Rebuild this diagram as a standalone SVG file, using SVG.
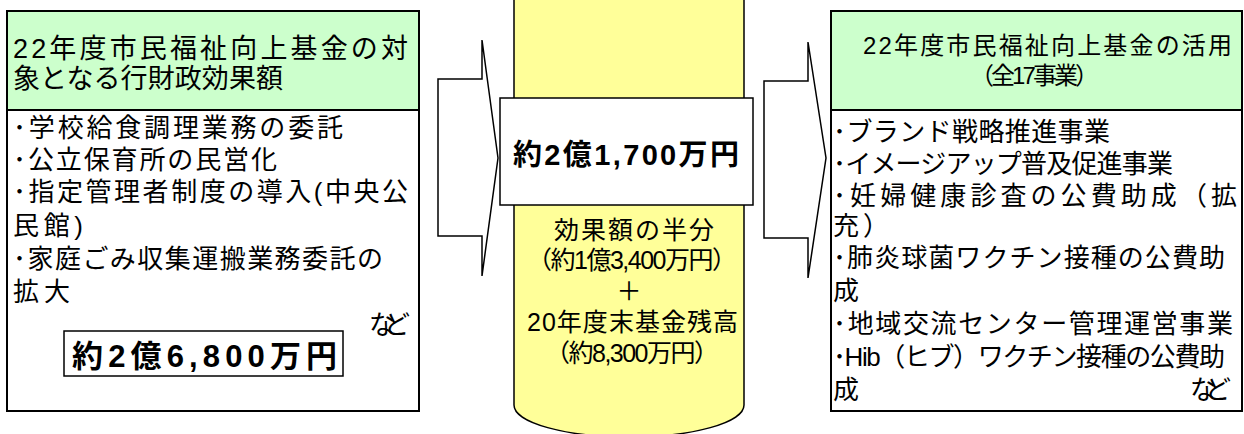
<svg xmlns="http://www.w3.org/2000/svg" width="1244" height="434" viewBox="0 0 1244 434">
<style>
.t{font-family:"Liberation Sans","Noto Sans CJK JP",sans-serif;font-size:26px;fill:#000}
.h{font-size:27px}
.y{font-size:25px}
.rh{font-size:24px}
.b{font-weight:bold;font-size:31px}
.box{fill:#fff;stroke:#000;stroke-width:2}
.hd{fill:#CCFFCC;stroke:#000;stroke-width:2}
.ar{fill:#fff;stroke:#000;stroke-width:1.5;stroke-linejoin:miter}
</style>
<rect width="1244" height="434" fill="#fff"/>
<g id="connectors">
<polygon class="ar" points="438,79 482,79 482,40 498,158 482,276 482,236 438,236"/>
<polygon class="ar" points="764,81 808,81 808,42 826,158 808,278 808,238 764,238"/>
</g>
<g id="left">
<rect class="box" x="7" y="11" width="412" height="400"/>
<rect class="hd" x="7" y="11" width="412" height="99"/>
<text class="t h" x="13" y="58" textLength="395" lengthAdjust="spacing">22年度市民福祉向上基金の対</text>
<text class="t h" x="13" y="88" textLength="270" lengthAdjust="spacing">象となる行財政効果額</text>
<text class="t" x="13" y="137" textLength="330" lengthAdjust="spacing">･学校給食調理業務の委託</text>
<text class="t" x="13" y="169" textLength="264" lengthAdjust="spacing">･公立保育所の民営化</text>
<text class="t" x="13" y="201" textLength="395" lengthAdjust="spacing">･指定管理者制度の導入(中央公</text>
<text class="t" x="13" y="235" textLength="70" lengthAdjust="spacing">民館)</text>
<text class="t" x="13" y="268" textLength="370" lengthAdjust="spacing">･家庭ごみ収集運搬業務委託の</text>
<text class="t" x="13" y="301" textLength="57" lengthAdjust="spacing">拡大</text>
<text class="t" x="369" y="334" textLength="41" lengthAdjust="spacing">など</text>
<rect x="64" y="331" width="279" height="45" fill="#fff" stroke="#000" stroke-width="1.5"/>
<text class="t b" x="72" y="367" textLength="265" lengthAdjust="spacing">約2億6,800万円</text>
</g>
<g id="center">
<path d="M514,-5 L514,405 A115,32 0 0 0 744,405 L744,-5 Z" fill="#FFFF99" stroke="#000" stroke-width="1.5"/>
<rect x="500" y="98" width="253" height="107" fill="#fff" stroke="#000" stroke-width="1.5"/>
<text class="t b" x="513" y="165" textLength="226" lengthAdjust="spacing" style="font-size:29px">約2億1,700万円</text>
<text class="t y" x="554" y="239" textLength="160" lengthAdjust="spacing">効果額の半分</text>
<text class="t y" x="527" y="269" textLength="210" lengthAdjust="spacing">（約1億3,400万円）</text>
<text class="t y" x="629" y="300" text-anchor="middle">＋</text>
<text class="t y" x="527" y="331" textLength="211" lengthAdjust="spacing">20年度末基金残高</text>
<text class="t y" x="545" y="362" textLength="174" lengthAdjust="spacing">（約8,300万円）</text>
</g>
<g id="right">
<rect class="box" x="831" y="11" width="411" height="400"/>
<rect class="hd" x="831" y="11" width="411" height="99"/>
<text class="t rh" x="863" y="54" textLength="369" lengthAdjust="spacing">22年度市民福祉向上基金の活用</text>
<text class="t rh" x="970" y="84" textLength="129" lengthAdjust="spacing">（全17事業）</text>
<text class="t" x="833" y="141" textLength="277" lengthAdjust="spacing">･ブランド戦略推進事業</text>
<text class="t" x="833" y="173" textLength="340" lengthAdjust="spacing">･イメージアップ普及促進事業</text>
<text class="t" x="833" y="205" textLength="404" lengthAdjust="spacing">･妊婦健康診査の公費助成（拡</text>
<text class="t" x="833" y="235" textLength="56" lengthAdjust="spacing">充）</text>
<text class="t" x="833" y="267" textLength="392" lengthAdjust="spacing">･肺炎球菌ワクチン接種の公費助</text>
<text class="t" x="833" y="300" textLength="28" lengthAdjust="spacing">成</text>
<text class="t" x="833" y="333" textLength="400" lengthAdjust="spacing">･地域交流センター管理運営事業</text>
<text class="t" x="833" y="366" textLength="392" lengthAdjust="spacing">･Hib（ヒブ）ワクチン接種の公費助</text>
<text class="t" x="833" y="399" textLength="28" lengthAdjust="spacing">成</text>
<text class="t" x="1190" y="399" textLength="41" lengthAdjust="spacing">など</text>
</g>
</svg>
